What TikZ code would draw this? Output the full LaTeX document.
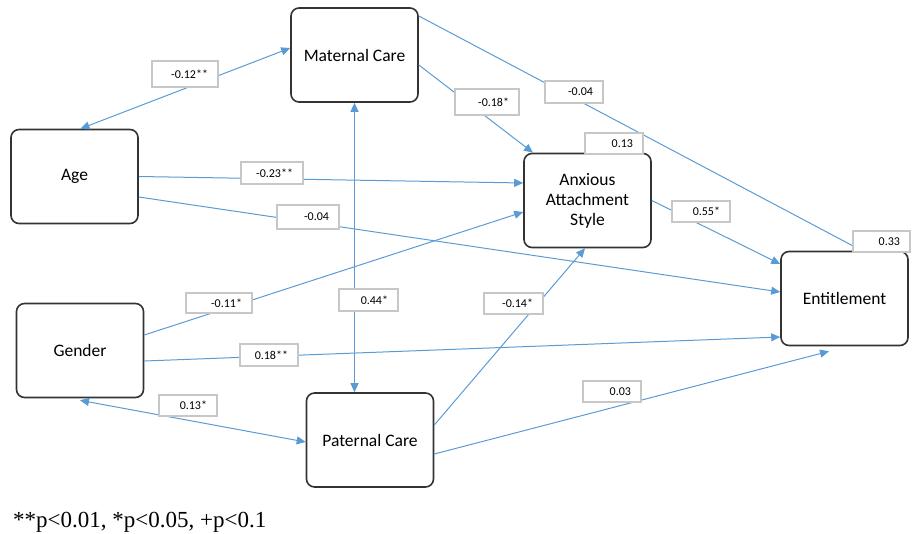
\documentclass[tikz,border=0pt]{standalone}
\usepackage{fontspec}
\setmainfont{Carlito}
\newfontfamily\notefont{Liberation Serif}
\usetikzlibrary{arrows.meta}
\definecolor{linkblue}{RGB}{91,155,213}
\tikzset{
  var/.style={draw=black!80, line width=1.6pt, rounded corners=8pt, fill=white,
    minimum width=127pt, minimum height=94pt, align=center,
    font=\fontsize{17.5}{20}\selectfont},
  coef/.style={draw=black!22, line width=1.3pt, fill=white, text width=#1,
    align=right, inner xsep=10pt, inner ysep=0pt, minimum height=21pt,
    font=\fontsize{12}{14}\selectfont},
  coef/.default=38pt,
  link/.style={draw=linkblue, line width=1pt}
}

\begin{document}
\begin{tikzpicture}[x=1pt,y=-1pt,>={Triangle[length=9pt,width=8pt]}]
\useasboundingbox (0,0) rectangle (912,534);

% variables
\node[var] (mat) at (354.5,55) {Maternal Care};
\node[var] (age) at (74.5,176.5) {Age};
\node[var] (anx) at (587.5,200.5) {Anxious\\Attachment\\Style};
\node[var] (ent) at (844.5,298.5) {Entitlement};
\node[var] (gen) at (80,350.5) {Gender};
\node[var] (pat) at (370,440) {Paternal Care};

% paths
\draw[link,<->] ([xshift=6pt]age.north) -- ([yshift=7pt]mat.west);
\draw[link,<->] (mat.south) -- (mat.south |- pat.north);
\draw[link,<->] ([yshift=-2pt]gen.south) -- ([yshift=-2pt]pat.west);
\draw[link,->] (age.east) -- ([yshift=17.5pt]anx.west);
\draw[link,->] ([yshift=-20.5pt]age.east) -- ([yshift=6.5pt]ent.west);
\draw[link,->] ([yshift=15.5pt]gen.east) -- ([yshift=-11.5pt]anx.west);
\draw[link,->] ([yshift=-10.5pt]gen.east) -- ([yshift=-38.5pt]ent.west);
\draw[link,->] ([yshift=-10pt]mat.east) -- ([xshift=-54.5pt]anx.north);
\draw[link,->] ([yshift=39pt]mat.east) -- ([xshift=17.5pt]ent.north);
\draw[link,->] (anx.east) -- ([yshift=34.5pt]ent.west);
\draw[link,->] ([yshift=15pt]pat.east) -- ([xshift=-2.5pt]anx.south);
\draw[link,->] ([yshift=-14pt]pat.east) -- ([xshift=-15.5pt,yshift=-5pt]ent.south);

% coefficients
\node[coef=46pt,minimum height=26pt] (c1) at (185,74) {-0.12**};
\node[coef=42pt,minimum height=22pt] (c2) at (272,173) {-0.23**};
\node[coef=42pt,minimum height=24pt] (c3) at (308,217) {-0.04};
\node[coef=44pt,minimum height=26pt] (c4) at (487,102) {-0.18*};
\node[coef,minimum height=22pt] (c5) at (574,92) {-0.04};
\node[coef] (r1) at (614,143.5) {0.13};
\node[coef] (c6) at (701,211.5) {0.55*};
\node[coef=37pt] (r2) at (881.5,241.5) {0.33};
\node[coef=46pt,minimum height=20pt] (c7) at (219,303) {-0.11*};
\node[coef=39pt,minimum height=22pt] (c8) at (368.5,300) {0.44*};
\node[coef,minimum height=22pt] (c9) at (269,355) {0.18**};
\node[coef] (c10) at (188,405.5) {0.13*};
\node[coef=39pt] (c11) at (513.5,303.5) {-0.14*};
\node[coef] (c12) at (612,391.5) {0.03};

% significance note
\node[anchor=base west, inner sep=0pt, font=\notefont\fontsize{23}{26}\selectfont]
  (note) at (13,527) {**p<0.01, *p<0.05, +p<0.1};

\end{tikzpicture}
\end{document}
